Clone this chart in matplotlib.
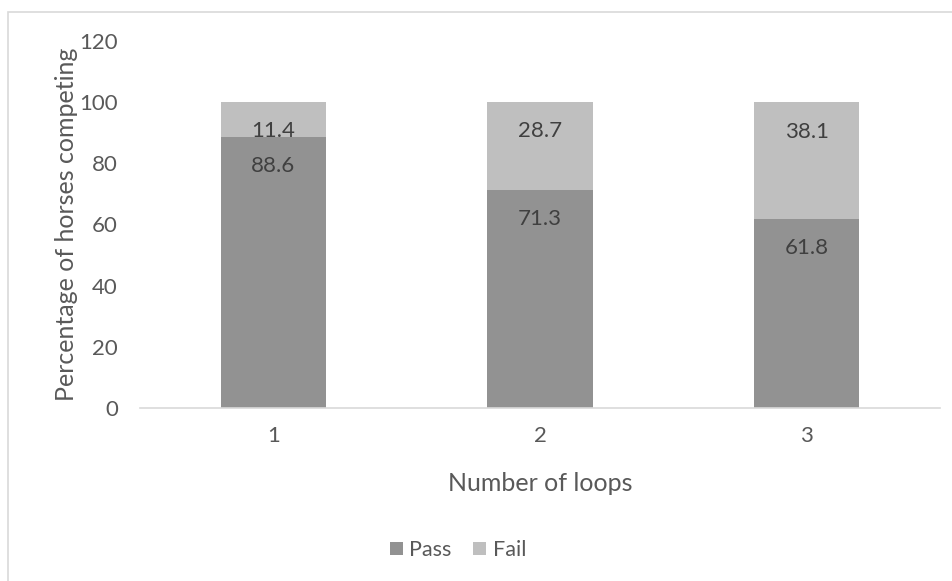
import matplotlib
matplotlib.use("Agg")
import matplotlib.pyplot as plt
from matplotlib.patches import Rectangle

categories = ["1", "2", "3"]
pass_vals = [88.6, 71.3, 61.8]
fail_vals = [11.4, 28.7, 38.1]
y_ticks = [0, 20, 40, 60, 80, 100, 120]

plt.rcParams['font.family'] = ['Lato', 'DejaVu Sans']
txt = "#595959"
pass_c = "#929292"
fail_c = "#bfbfbf"

fig = plt.figure(figsize=(9.53, 5.81), dpi=100)
fig.patches.append(Rectangle((8/953, -0.1), 1.2, 1.1 - 12/581, transform=fig.transFigure,
                             fill=False, edgecolor="#d9d9d9", linewidth=1.2))
ax = fig.add_axes([140/953, 1-408/581, 800/953, 367/581])

x = list(range(len(categories)))
w = 0.395
b1 = ax.bar(x, pass_vals, w, color=pass_c, label="Pass")
b2 = ax.bar(x, fail_vals, w, bottom=pass_vals, color=fail_c, label="Fail")

for bars, vals, bots in [(b1, pass_vals, [0]*3), (b2, fail_vals, pass_vals)]:
    for xi, v, b in zip(x, vals, bots):
        ax.annotate(f"{v}", (xi, v + b), xytext=(0, -21), textcoords="offset points",
                    ha="center", va="center", fontsize=16, color="#404040")

ax.set_xlim(-0.5, 2.5)
ax.set_ylim(0, 120)
ax.set_yticks(y_ticks)
ax.set_xticks(x)
ax.set_xticklabels(categories)
ax.tick_params(axis='both', length=0, labelsize=16, colors=txt)
ax.tick_params(axis='y', pad=16)
ax.tick_params(axis='x', pad=13)
for s in ["top", "right", "left"]:
    ax.spines[s].set_visible(False)
ax.spines["bottom"].set_color("#d9d9d9")
ax.spines["bottom"].set_linewidth(1.2)

ax.set_ylabel("Percentage of horses competing", fontsize=18, color=txt, labelpad=1)
ax.set_xlabel("Number of loops", fontsize=18, color=txt, labelpad=19)

fig.legend(handles=[b1, b2], loc="center", bbox_to_anchor=(458/953, 1-550/581), ncol=2,
           frameon=False, fontsize=15.5, labelcolor=txt, handlelength=0.6, handleheight=0.6,
           handletextpad=0.3, columnspacing=1.0)

fig.savefig("out.png", dpi=100, facecolor="white")
